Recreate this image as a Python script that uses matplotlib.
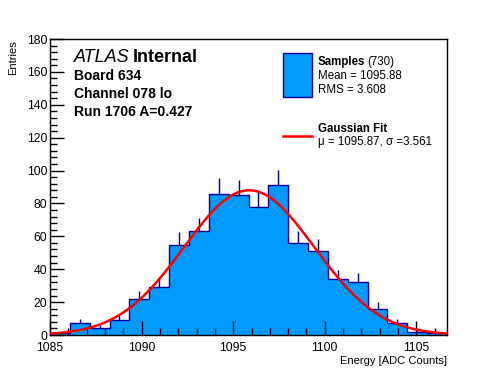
import numpy as np
import matplotlib
matplotlib.use("Agg")
import matplotlib.pyplot as plt
from matplotlib.ticker import MultipleLocator
from matplotlib.patches import Rectangle
from matplotlib.lines import Line2D

plt.rcParams['font.family'] = ['Liberation Sans', 'DejaVu Sans']

# ---- data ----
x_min, x_max = 1085.0, 1106.67
n_bins = 20
counts = [1, 7, 4, 9, 22, 29, 55, 63, 86, 85, 78, 91, 56, 51, 34, 32, 16, 7, 2, 1]
fit_mu = 1095.87
fit_sigma = 3.561
fit_amp = 88.0
n_entries = 730
mean_val = 1095.88
rms_val = 3.608
header_lines = ["Board 634", "Channel 078 lo", "Run 1706 A=0.427"]

fill_col = '#0099ff'
edge_col = '#000099'

fig = plt.figure(figsize=(4.96, 3.72), dpi=100)
ax = fig.add_axes([50/496, 1-335/372, (447-50)/496, (335-39)/372])

edges = np.linspace(x_min, x_max, n_bins + 1)
counts_a = np.array(counts, dtype=float)
centers = 0.5 * (edges[:-1] + edges[1:])

ax.stairs(counts_a, edges, fill=True, color=fill_col, zorder=1)
ax.stairs(counts_a, edges, color=edge_col, lw=1.0, zorder=2)
ax.vlines(centers, counts_a, counts_a + np.sqrt(counts_a), color=edge_col, lw=1.0, zorder=2)

xf = np.linspace(x_min, x_max, 400)
yf = fit_amp * np.exp(-0.5 * ((xf - fit_mu) / fit_sigma) ** 2)
ax.plot(xf, yf, color='#ff0000', lw=1.8, zorder=3)

ax.set_xlim(x_min, x_max)
ax.set_ylim(0, 180)
ax.xaxis.set_major_locator(MultipleLocator(5))
ax.xaxis.set_minor_locator(MultipleLocator(1))
ax.yaxis.set_major_locator(MultipleLocator(20))
ax.yaxis.set_minor_locator(MultipleLocator(4))
ax.tick_params(which='major', direction='in', length=10, width=1, labelsize=8.8, pad=2)
ax.tick_params(axis='x', which='major', pad=5)
ax.tick_params(which='minor', direction='in', length=5, width=1)
ax.tick_params(top=False, right=False, which='both')
for s in ax.spines.values():
    s.set_linewidth(1.0)

fig.text(13/496, 1-40/372, "Entries", rotation=90, ha='center', va='top', fontsize=8)
fig.text(447/496, 1-364/372, "Energy [ADC Counts]", ha='right', va='baseline', fontsize=8)

# ATLAS label
t = fig.text(74/496, 1-62/372, "ATLAS", fontsize=13, style='italic', ha='left', va='baseline')
fig.canvas.draw()
bb = t.get_window_extent()
fig.text(bb.x1/496 + 3/496, 1-62/372, "Internal", fontsize=13, weight='bold', ha='left', va='baseline')
ys = [80, 98, 116]
for line, yy in zip(header_lines, ys):
    fig.text(74/496, 1-yy/372, line, fontsize=10, weight='bold', ha='left', va='baseline')

# legend
fig.patches.append(Rectangle((283/496, 1-97/372), 29/496, 44/372, transform=fig.transFigure,
                             facecolor=fill_col, edgecolor=edge_col, lw=1))
t2 = fig.text(318/496, 1-65/372, "Samples", fontsize=8.3, weight='bold', ha='left', va='baseline')
fig.canvas.draw()
bb2 = t2.get_window_extent()
fig.text(bb2.x1/496 + 2/496, 1-65/372, "(%d)" % n_entries, fontsize=8.3, ha='left', va='baseline')
fig.text(318/496, 1-79/372, "Mean = %.2f" % mean_val, fontsize=8.3, ha='left', va='baseline')
fig.text(318/496, 1-93/372, "RMS = %.3f" % rms_val, fontsize=8.3, ha='left', va='baseline')
fig.lines.append(Line2D([283/496, 312/496], [1-136/372, 1-136/372], transform=fig.transFigure,
                        color='#ff0000', lw=1.8))
fig.text(318/496, 1-132/372, "Gaussian Fit", fontsize=8.3, weight='bold', ha='left', va='baseline')
fig.text(318/496, 1-145/372, "\u03bc = %.2f, \u03c3 =%.3f" % (fit_mu, fit_sigma), fontsize=8.3,
         ha='left', va='baseline')

fig.savefig("out.png", dpi=100)
